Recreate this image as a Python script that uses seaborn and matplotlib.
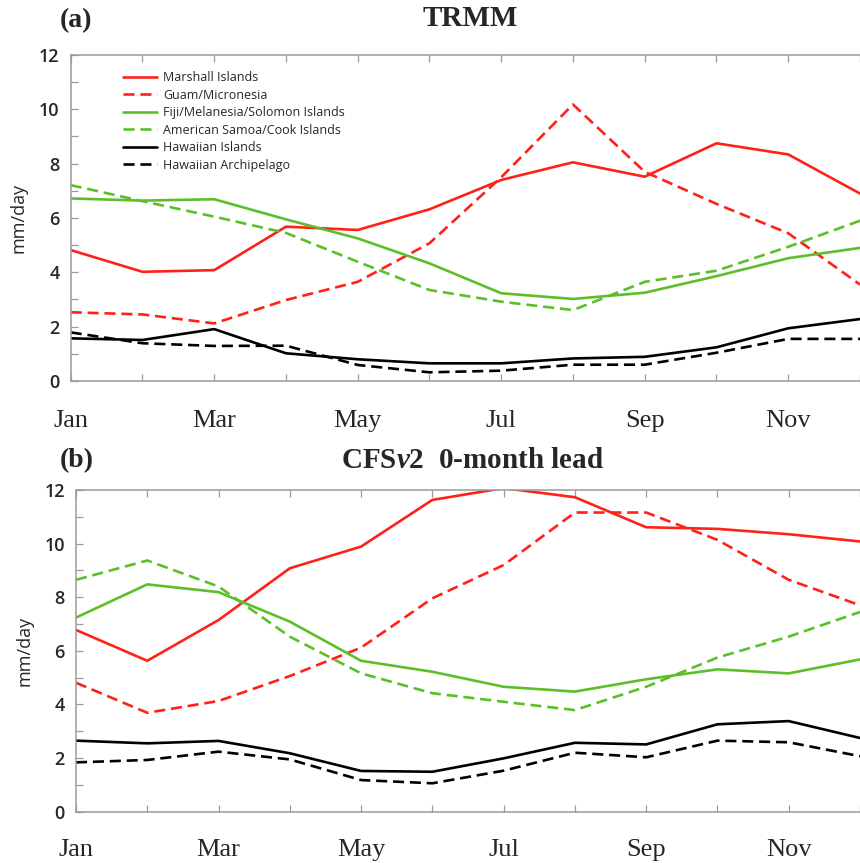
import matplotlib
matplotlib.use("Agg")
import matplotlib.pyplot as plt
import numpy as np
import pandas as pd
import seaborn as sns

# ---------------- data ----------------
months = ["Jan", "Feb", "Mar", "Apr", "May", "Jun", "Jul", "Aug", "Sep", "Oct", "Nov", "Dec"]
month_labels = ["Jan", "", "Mar", "", "May", "", "Jul", "", "Sep", "", "Nov", ""]
regions = ["Marshall Islands", "Guam/Micronesia", "Fiji/Melanesia/Solomon Islands",
           "American Samoa/Cook Islands", "Hawaiian Islands", "Hawaiian Archipelago"]

# (a) TRMM
trmm_marshall = [4.82, 4.02, 4.08, 5.68, 5.56, 6.32, 7.40, 8.05, 7.52, 8.75, 8.34, 6.90]
trmm_guam     = [2.53, 2.45, 2.12, 2.98, 3.65, 5.07, 7.50, 10.18, 7.70, 6.52, 5.44, 3.55]
trmm_fiji     = [6.72, 6.64, 6.69, 5.95, 5.25, 4.33, 3.23, 3.02, 3.25, 3.86, 4.52, 4.90]
trmm_samoa    = [7.21, 6.62, 6.05, 5.45, 4.39, 3.35, 2.92, 2.61, 3.65, 4.06, 4.94, 5.90]
trmm_hawisl   = [1.57, 1.51, 1.91, 1.02, 0.80, 0.65, 0.65, 0.83, 0.89, 1.24, 1.94, 2.28]
trmm_hawarch  = [1.79, 1.39, 1.29, 1.30, 0.59, 0.32, 0.38, 0.60, 0.60, 1.04, 1.55, 1.55]

# (b) CFSv2 0-month lead
cfs_marshall = [6.78, 5.63, 7.15, 9.08, 9.89, 11.63, 12.07, 11.73, 10.61, 10.55, 10.35, 10.08]
cfs_guam     = [4.81, 3.69, 4.13, 5.06, 6.12, 7.96, 9.20, 11.16, 11.16, 10.14, 8.65, 7.70]
cfs_fiji     = [7.24, 8.48, 8.19, 7.09, 5.63, 5.22, 4.66, 4.48, 4.94, 5.31, 5.16, 5.68]
cfs_samoa    = [8.65, 9.37, 8.40, 6.53, 5.16, 4.42, 4.10, 3.79, 4.66, 5.75, 6.53, 7.45]
cfs_hawisl   = [2.65, 2.55, 2.64, 2.18, 1.52, 1.49, 1.99, 2.57, 2.51, 3.26, 3.38, 2.75]
cfs_hawarch  = [1.84, 1.93, 2.24, 1.95, 1.18, 1.06, 1.53, 2.20, 2.03, 2.65, 2.59, 2.07]

panel_series = {
    "a": [trmm_marshall, trmm_guam, trmm_fiji, trmm_samoa, trmm_hawisl, trmm_hawarch],
    "b": [cfs_marshall, cfs_guam, cfs_fiji, cfs_samoa, cfs_hawisl, cfs_hawarch],
}

# ---------------- styles ----------------
RED = "#ff2118"
GREEN = "#5cbf2a"
palette = {regions[0]: RED, regions[1]: RED, regions[2]: GREEN,
           regions[3]: GREEN, regions[4]: "black", regions[5]: "black"}
dash = (4.2, 2.2)
dashes = {regions[0]: "", regions[1]: dash, regions[2]: "",
          regions[3]: dash, regions[4]: "", regions[5]: dash}

sns.set_style("ticks")
plt.rcParams["font.family"] = ["Open Sans", "DejaVu Sans"]
plt.rcParams["mathtext.fontset"] = "custom"
plt.rcParams["mathtext.rm"] = "Liberation Serif:bold"
plt.rcParams["mathtext.it"] = "Liberation Serif:italic:bold"
plt.rcParams["mathtext.bf"] = "Liberation Serif:bold"

W, H = 860, 863
fig = plt.figure(figsize=(W / 100, H / 100), dpi=100)

SPINE = "#9a9a9a"
SERIF = ["Liberation Serif", "DejaVu Serif"]


def make_df(series):
    rows = []
    for reg, vals in zip(regions, series):
        for i, v in enumerate(vals):
            rows.append({"month": i, "value": v, "region": reg})
    return pd.DataFrame(rows)


def setup_panel(rect, series, xmax, legend, xpad):
    ax = fig.add_axes(rect)
    df = make_df(series)
    sns.lineplot(data=df, x="month", y="value", hue="region", style="region",
                 palette=palette, dashes=dashes, hue_order=regions, style_order=regions,
                 linewidth=1.9, ax=ax, legend=legend)
    ax.set_xlim(0, xmax)
    ax.set_ylim(0, 12)
    ax.set_xlabel("")
    ax.set_ylabel("mm/day", fontsize=13, labelpad=8)
    ax.set_xticks(range(len(months)))
    ax.set_xticklabels(month_labels, fontsize=19, family=SERIF)
    ax.set_yticks(np.arange(0, 13, 2))
    ax.set_yticks(np.arange(1, 12, 2), minor=True)
    ax.tick_params(axis="x", which="both", direction="in", top=True, bottom=True,
                   length=5, width=0.9, color=SPINE, pad=xpad)
    ax.tick_params(axis="y", which="both", direction="in", left=True, right=False,
                   length=5, width=0.9, color=SPINE, labelsize=13, pad=8)
    for t in ax.get_yticklabels():
        t.set_fontweight("semibold")
    for s in ["left", "top", "bottom"]:
        ax.spines[s].set_color(SPINE)
        ax.spines[s].set_linewidth(1.1)
    ax.spines["right"].set_visible(False)
    return ax


# panel (a)
ax1 = setup_panel([70.7 / W, 1 - 381 / H, (W - 70.7) / W, 326 / H],
                  panel_series["a"], (W - 70.7) / 72.6, True, 21)
h, l = ax1.get_legend_handles_labels()
ax1.legend(h, l, loc="upper left", bbox_to_anchor=(0.066, 0.950), frameon=False,
           fontsize=9, handlelength=2.7, handletextpad=0.55, labelspacing=0.36,
           borderpad=0, borderaxespad=0)

# panel (b)
ax2 = setup_panel([76 / W, 1 - 811.7 / H, (W - 76) / W, 321.7 / H],
                  panel_series["b"], (W - 76) / 71.8, False, 19.5)

# titles
fig.text(60 / W, 1 - 21 / H, "(a)", fontsize=20, fontweight="bold", family=SERIF,
         ha="left", va="center")
fig.text(470 / W, 1 - 18 / H, "TRMM", fontsize=21, fontweight="bold", family=SERIF,
         ha="center", va="center")
fig.text(60 / W, 1 - 461 / H, "(b)", fontsize=20, fontweight="bold", family=SERIF,
         ha="left", va="center")
fig.text(472 / W, 1 - 460 / H, r"CFS$\mathit{v}$2  0-month lead", fontsize=21,
         fontweight="bold", family=SERIF, ha="center", va="center")

fig.savefig("out.png", dpi=100)
